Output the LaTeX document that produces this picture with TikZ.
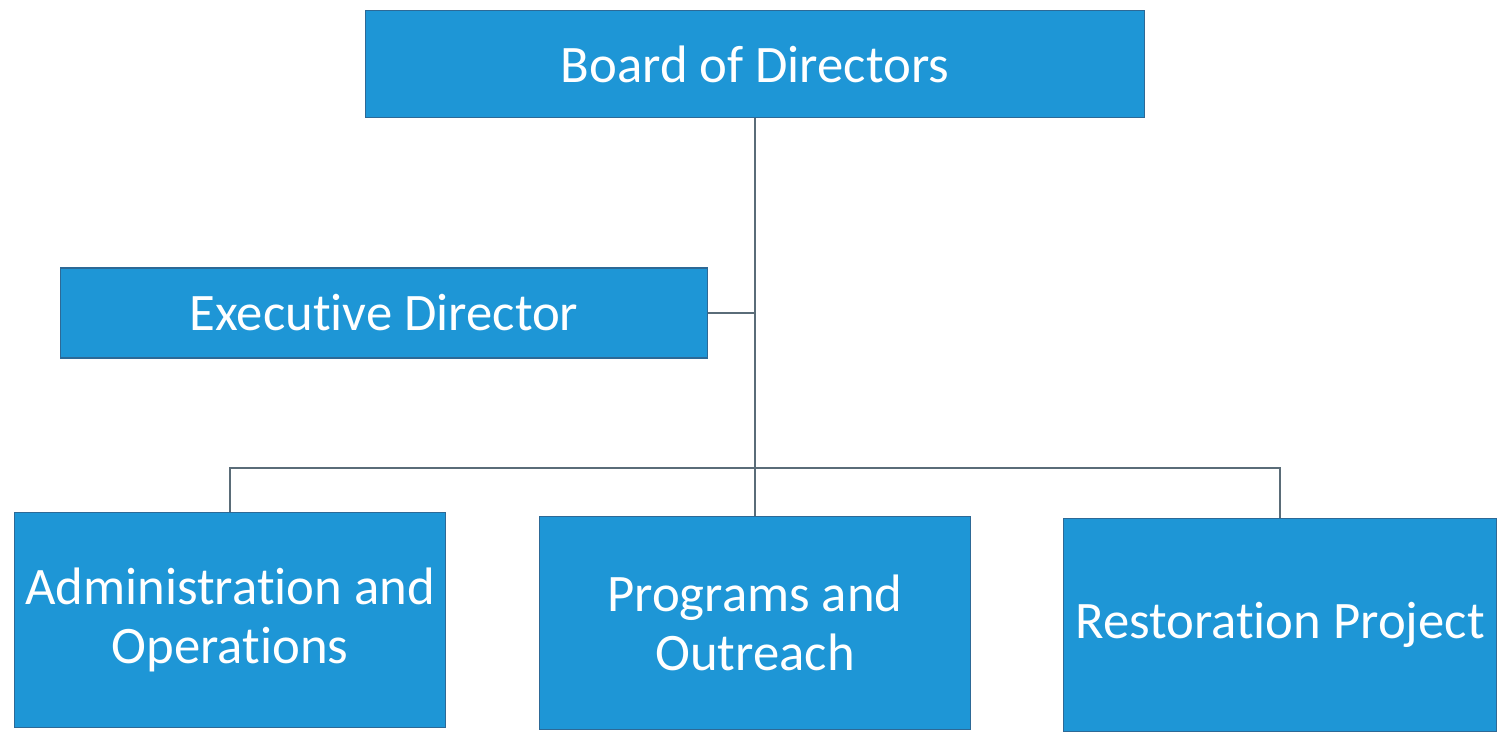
\documentclass[tikz,border=0pt]{standalone}
\usepackage{fontspec}
\setmainfont[Ligatures=NoCommon]{Carlito}
\definecolor{boxblue}{RGB}{30,150,214}
\definecolor{boxedge}{RGB}{45,105,150}
\definecolor{wire}{RGB}{90,108,120}
\begin{document}
\begin{tikzpicture}[x=0.02cm,y=-0.02cm,every node/.style={align=center},
    unit/.style={rectangle,fill=boxblue,draw=boxedge,line width=0.6pt,text=white,
        inner sep=0pt,font=\fontsize{30}{34}\selectfont},
    link/.style={draw=wire,line width=1.1pt}]
        \useasboundingbox (0,0) rectangle (1499,734);

        % top and middle
        \node[unit,minimum width=15.6cm,minimum height=2.14cm] (board) at (755,64) {Board of Directors};
        \node[unit,minimum width=12.96cm,minimum height=1.8cm] (exec) at (384,313) {Executive Director};

        % bottom row
        \node[unit,minimum width=8.64cm,minimum height=4.3cm] (admin) at (230,620) {Administration and\\Operations};
        \node[unit,minimum width=8.62cm,minimum height=4.26cm] (prog) at (755,623) {Programs and\\Outreach};
        \node[unit,minimum width=8.68cm,minimum height=4.26cm] (rest) at (1280,625) {Restoration Project};

        \coordinate (bus) at (755,468);

        \draw[link] (board.south) -- (prog.north);
        \draw[link] (exec.east) -- (exec.east -| board.south);
        \draw[link] (admin.north) |- (bus) -| (rest.north);
\end{tikzpicture}
\end{document}
